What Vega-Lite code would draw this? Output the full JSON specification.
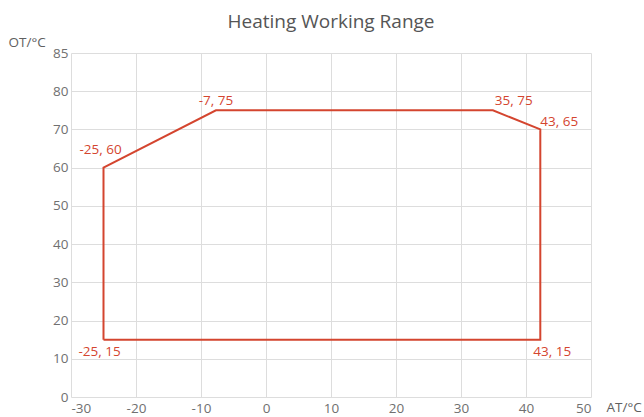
{
  "$schema": "https://vega.github.io/schema/vega-lite/v6.json",
  "width": 520,
  "height": 344,
  "autosize": {"type": "none"},
  "padding": {"left": 71, "top": 53, "right": 53, "bottom": 20},
  "background": "white",
  "title": {"text": "Heating Working Range", "fontSize": 19, "font": "Open Sans", "fontWeight": "normal", "color": "#555555", "offset": 24, "dy": 21, "anchor": "middle"},
  "config": {
    "view": {"stroke": null},
    "axis": {"labelFont": "Open Sans", "labelFontSize": 13.5, "labelColor": "#707070", "gridColor": "#dddddd", "gridWidth": 1, "domain": false, "ticks": false, "titleFont": "Open Sans", "titleFontSize": 13.5, "titleFontWeight": "normal", "titleColor": "#606060"}
  },
  "data": {"values": [
    {"order": 1, "at": -25, "ot": 15, "label": "-25, 15"},
    {"order": 2, "at": -25, "ot": 60, "label": "-25, 60"},
    {"order": 3, "at": -7.7, "ot": 75, "label": "-7, 75"},
    {"order": 4, "at": 34.9, "ot": 75, "label": "35, 75"},
    {"order": 5, "at": 42.2, "ot": 70, "label": "43, 65"},
    {"order": 6, "at": 42.2, "ot": 15, "label": "43, 15"},
    {"order": 7, "at": -25, "ot": 15, "label": ""}
  ]},
  "encoding": {
    "x": {"field": "at", "type": "quantitative", "scale": {"domain": [-30, 50], "nice": false, "zero": false},
      "axis": {"values": [-30, -20, -10, 0, 10, 20, 30, 40, 50], "labelExpr": "'' + datum.value", "labelPadding": 4, "title": "AT/°C", "titleAngle": 0, "titleAlign": "left", "titleBaseline": "middle", "titleX": 535, "titleY": 10}},
    "y": {"field": "ot", "type": "quantitative", "scale": {"domain": [0, 90], "nice": false},
      "axis": {"values": [0, 10, 20, 30, 40, 50, 60, 70, 80, 90], "labelExpr": "datum.value == 90 ? '85' : datum.label", "labelPadding": 3, "title": "OT/°C", "titleAngle": 0, "titleAlign": "left", "titleBaseline": "middle", "titleX": -63, "titleY": -11}}
  },
  "layer": [
    {"mark": {"type": "line", "color": "#d4452f", "strokeWidth": 2}, "encoding": {"order": {"field": "order", "type": "quantitative"}}},
    {"transform": [{"filter": "datum.order == 2"}], "mark": {"type": "text", "color": "#d4452f", "font": "Open Sans", "fontSize": 13.5, "align": "center", "baseline": "middle", "dx": -3, "dy": -18}, "encoding": {"text": {"field": "label"}}},
    {"transform": [{"filter": "datum.order == 3"}], "mark": {"type": "text", "color": "#d4452f", "font": "Open Sans", "fontSize": 13.5, "align": "center", "baseline": "middle", "dx": 0, "dy": -9}, "encoding": {"text": {"field": "label"}}},
    {"transform": [{"filter": "datum.order == 4"}], "mark": {"type": "text", "color": "#d4452f", "font": "Open Sans", "fontSize": 13.5, "align": "left", "baseline": "middle", "dx": 2, "dy": -9}, "encoding": {"text": {"field": "label"}}},
    {"transform": [{"filter": "datum.order == 5"}], "mark": {"type": "text", "color": "#d4452f", "font": "Open Sans", "fontSize": 13.5, "align": "left", "baseline": "middle", "dx": 0, "dy": -7}, "encoding": {"text": {"field": "label"}}},
    {"transform": [{"filter": "datum.order == 6"}], "mark": {"type": "text", "color": "#d4452f", "font": "Open Sans", "fontSize": 13.5, "align": "left", "baseline": "middle", "dx": -7, "dy": 12}, "encoding": {"text": {"field": "label"}}},
    {"transform": [{"filter": "datum.order == 1"}], "mark": {"type": "text", "color": "#d4452f", "font": "Open Sans", "fontSize": 13.5, "align": "left", "baseline": "middle", "dx": -25, "dy": 12}, "encoding": {"text": {"field": "label"}}}
  ]
}
